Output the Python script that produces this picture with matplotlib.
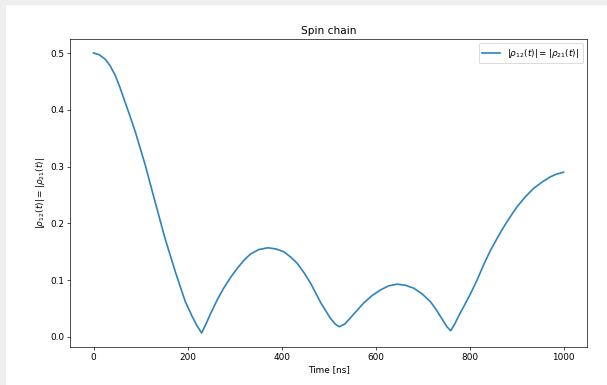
import matplotlib
matplotlib.use("Agg")
import matplotlib.pyplot as plt
from matplotlib.patches import Rectangle

# values
time_ns = [0, 12, 25, 35, 46, 56, 67, 78, 89, 110, 131, 152, 174, 195, 210,
           220, 230, 240, 249, 263, 277, 291, 306, 320, 334, 352, 371, 388,
           405, 419, 433, 448, 462, 483, 504, 514, 523, 535, 547, 561, 575,
           593, 611, 628, 646, 664, 681, 699, 717, 730, 742, 752, 760, 768,
           777, 788, 802, 816, 830, 845, 859, 873, 887, 901, 919, 937, 955,
           972, 986, 1000]
rho = [0.500, 0.497, 0.489, 0.478, 0.461, 0.440, 0.414, 0.388, 0.361, 0.303,
       0.238, 0.174, 0.115, 0.063, 0.036, 0.020, 0.007, 0.024, 0.041, 0.065,
       0.086, 0.104, 0.121, 0.135, 0.146, 0.154, 0.157, 0.155, 0.150, 0.141,
       0.130, 0.113, 0.0945, 0.061, 0.033, 0.023, 0.018, 0.023, 0.034, 0.047,
       0.060, 0.073, 0.083, 0.090, 0.093, 0.091, 0.086, 0.076, 0.062, 0.047,
       0.031, 0.018, 0.011, 0.022, 0.037, 0.054, 0.076, 0.100, 0.127, 0.153,
       0.174, 0.194, 0.212, 0.229, 0.247, 0.262, 0.273, 0.282, 0.287, 0.290]

label = r'$|\rho_{12}(t)| = |\rho_{21}(t)|$'

fig = plt.figure(figsize=(10, 6.343), dpi=60.7, facecolor='#eeeeee')
# white page inside the grey screenshot frame
fig.patches.append(Rectangle((6 / 607, 0), 1, 380 / 385, transform=fig.transFigure,
                             facecolor='white', edgecolor='none', zorder=-1))
ax = fig.add_axes([70 / 607, 38 / 385, 517 / 607, 308 / 385])

ax.plot(time_ns, rho, label=label, linewidth=2.0, color='#2f84c0')
ax.set_title("Spin chain", fontsize=12.5)
ax.set_xlabel("Time [ns]", fontsize=10.5)
ax.set_ylabel(label, fontsize=10.5)
ax.tick_params(labelsize=10.5)
ax.legend(loc='upper right', fontsize=10.5)

fig.savefig("out.png", dpi=60.7, facecolor=fig.get_facecolor())
